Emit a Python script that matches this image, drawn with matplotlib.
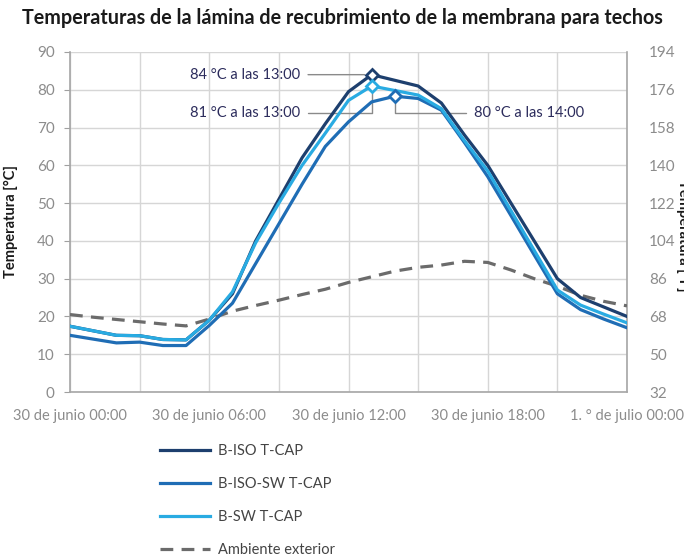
import matplotlib.pyplot as plt
from matplotlib.lines import Line2D

# hourly values, 30 June 00:00 -> 1 July 00:00
hours = list(range(25))
b_iso = [17.4, 16.2, 15.0, 14.9, 13.9, 13.8, 19.0, 26.0, 40.0, 51.0, 62.0, 71.0, 79.5,
         84.0, 82.5, 81.0, 76.5, 68.0, 60.0, 50.0, 40.0, 30.0, 25.0, 22.5, 20.0]
b_iso_sw = [15.0, 14.0, 13.0, 13.2, 12.3, 12.3, 17.6, 23.5, 34.0, 44.5, 55.0, 65.0, 71.5,
            76.8, 78.3, 77.7, 74.6, 66.0, 57.0, 46.7, 36.3, 26.0, 21.8, 19.3, 17.0]
b_sw = [17.4, 16.2, 15.0, 14.9, 13.9, 13.8, 19.0, 26.5, 39.5, 50.0, 60.0, 68.5, 77.2,
        81.0, 79.8, 78.6, 75.0, 66.5, 58.5, 48.0, 37.5, 27.0, 23.0, 20.6, 18.3]
ambient = [20.5, 19.8, 19.2, 18.6, 18.0, 17.5, 19.3, 21.4, 22.9, 24.3, 25.8, 27.2, 29.0,
           30.5, 32.0, 33.0, 33.6, 34.6, 34.3, 32.3, 30.0, 28.0, 25.6, 24.0, 22.8]

x_ticks = [0, 6, 12, 18, 24]
x_labels = ['30 de junio 00:00', '30 de junio 06:00', '30 de junio 12:00',
            '30 de junio 18:00', '1. ° de julio 00:00']
c_ticks = list(range(0, 91, 10))
f_ticks = list(range(32, 195, 18))

names = ['B-ISO T-CAP', 'B-ISO-SW T-CAP', 'B-SW T-CAP', 'Ambiente exterior']
colors = ['#1d3f6e', '#1f6db5', '#29abe2', '#6b6b6b']

plt.rcParams['font.family'] = ['Lato', 'DejaVu Sans']

fig = plt.figure(figsize=(6.84, 5.58), dpi=100)
ax = fig.add_axes([70 / 684, 1 - 392 / 558, 557 / 684, 340 / 558])

tick_gray = '#8c8c8c'
navy = '#2c2c5c'
lw = 2.3

# dashed ambient first so the blue lines sit on top
amb, = ax.plot(hours, ambient, color=colors[3], lw=lw, dashes=(4, 2.6), zorder=3)
l1, = ax.plot(hours, b_iso, color=colors[0], lw=lw, zorder=4)
l2, = ax.plot(hours, b_iso_sw, color=colors[1], lw=lw, zorder=5)
l3, = ax.plot(hours, b_sw, color=colors[2], lw=lw, zorder=6)

# peak markers
peaks = [(b_iso, 13, colors[0]), (b_sw, 13, colors[2]), (b_iso_sw, 14, colors[1])]
for series, h, c in peaks:
    ax.plot(h, series[h], marker='D', ms=6, mfc='white', mec=c, mew=2, zorder=7)

ann_kw = dict(textcoords='offset pixels', color=navy, fontsize=10.5, va='center')
arrow_gray = '#8a8a8a'
ax.annotate('84 °C a las 13:00', xy=(13, b_iso[13]), xytext=(-72, 0), ha='right',
            arrowprops=dict(arrowstyle='-', color=arrow_gray, lw=1, shrinkA=4, shrinkB=5),
            **ann_kw)
ax.annotate('81 °C a las 13:00', xy=(13, b_sw[13]), xytext=(-72, -27), ha='right',
            arrowprops=dict(arrowstyle='-', color=arrow_gray, lw=1, shrinkA=4, shrinkB=5,
                            connectionstyle='angle,angleA=0,angleB=90,rad=0'),
            **ann_kw)
ax.annotate('80 °C a las 14:00', xy=(14, b_iso_sw[14]), xytext=(79, -17), ha='left',
            arrowprops=dict(arrowstyle='-', color=arrow_gray, lw=1, shrinkA=4, shrinkB=5,
                            connectionstyle='angle,angleA=0,angleB=90,rad=0'),
            **ann_kw)

ax.set_xlim(0, 24)
ax.set_ylim(0, 90)
ax.set_xticks(x_ticks)
ax.set_xticklabels(x_labels)
ax.set_xticks(range(0, 25, 3), minor=True)
ax.set_yticks(c_ticks)
ax.grid(True, which='both', color='#d6d6d6', lw=1)
ax.set_axisbelow(True)
ax.tick_params(axis='x', which='both', length=0, pad=12, labelsize=10.5, labelcolor=tick_gray)
ax.tick_params(axis='y', length=4, color='#a0a0a0', pad=7, labelsize=11, labelcolor=tick_gray)
for side in ['left', 'bottom', 'right']:
    ax.spines[side].set_color('#a6a6a6')
    ax.spines[side].set_linewidth(1.2)
ax.spines['top'].set_visible(False)

ax.set_ylabel('Temperatura [°C]', fontsize=10.5, fontweight='bold', color='#1a1a1a')
ax.yaxis.set_label_coords(-0.093, 0.5)

ax2 = ax.twinx()
ax2.set_ylim(32, 194)
ax2.set_yticks(f_ticks)
ax2.tick_params(axis='y', length=0, pad=16, labelsize=11, labelcolor=tick_gray)
for s in ax2.spines.values():
    s.set_visible(False)
# the reference shows this label running off the right edge
ax2.set_ylabel('Temperatura [°F]', fontsize=10.5, fontweight='bold', color='#1a1a1a',
               rotation=270, va='center')
ax2.yaxis.set_label_coords(1.101, 0.46)

fig.suptitle('Temperaturas de la lámina de recubrimiento de la membrana para techos',
             x=0.5, y=1 - 18 / 558, va='center', fontsize=14.2, fontweight='bold',
             color='#1a1a1a')

handles = [Line2D([], [], color=colors[0], lw=lw),
           Line2D([], [], color=colors[1], lw=lw),
           Line2D([], [], color=colors[2], lw=lw),
           Line2D([], [], color=colors[3], lw=lw, dashes=(4, 2.6))]
leg = fig.legend(handles, names, loc='upper left', bbox_to_anchor=(160 / 684, 1 - 444 / 558),
                 frameon=False, fontsize=10.5, handlelength=3.45, handletextpad=0.5,
                 labelspacing=1.3, borderpad=0, borderaxespad=0)
for t in leg.get_texts():
    t.set_color('#444444')

fig.savefig('out.png', dpi=100)
